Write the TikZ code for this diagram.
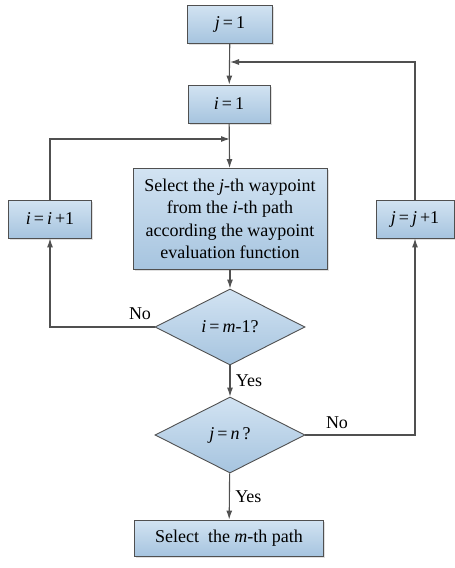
\documentclass[tikz,border=0pt]{standalone}
\usepackage{fontspec}
\setmainfont{Liberation Serif}
\usetikzlibrary{shapes.geometric,arrows.meta,shadows}
\definecolor{boxtop}{RGB}{210,227,242}
\definecolor{boxbot}{RGB}{166,196,223}
\definecolor{edgegray}{RGB}{80,80,80}
\tikzset{
  procbox/.style={draw=edgegray, line width=0.9pt, top color=boxtop, bottom color=boxbot,
    minimum height=38pt, inner sep=2pt, align=center,
    drop shadow={shadow xshift=1.5pt, shadow yshift=-1.5pt, opacity=0.25}},
  testbox/.style={diamond, aspect=2, draw=edgegray, line width=0.9pt, top color=boxtop,
    bottom color=boxbot, minimum width=150pt, minimum height=76pt, inner sep=0pt},
  flow/.style={draw=edgegray, line width=1.1pt, -{Latex[length=9pt,width=6pt]}},
  plain/.style={draw=edgegray, line width=1.1pt}
}
\begin{document}
\begin{tikzpicture}[x=1pt, y=-1pt, font=\fontsize{18}{22.5}\selectfont]
  \useasboundingbox (0,0) rectangle (455,568);
  % Boxes
  \node[procbox, minimum width=85pt] (j1) at (230,24) {\textit{j}\,=\,1};
  \node[procbox, minimum width=82pt] (i1) at (229,104) {\textit{i}\,=\,1};
  \node[procbox, minimum width=194pt, minimum height=101pt] (sel) at (230,219)
    {Select the \textit{j}-th waypoint\\from the \textit{i}-th path\\according the waypoint\\evaluation function};
  \node[procbox, minimum width=83pt] (inci) at (50,219) {\textit{i}\,=\,\textit{i}\,+1};
  \node[procbox, minimum width=78pt] (incj) at (415,219) {\textit{j}\,=\,\textit{j}\,+1};
  \node[procbox, minimum width=189pt, minimum height=36pt] (last) at (229,538) {Select\ \ the \textit{m}-th path};
  % Decisions
  \node[testbox] (d1) at (230,327) {\textit{i}\,=\,\textit{m}-1?};
  \node[testbox] (d2) at (230,435) {\textit{j}\,=\,\textit{n}\,?};
  % Merge points
  \coordinate (mi) at (230,139);
  \coordinate (mj) at (230,62);
  % Connectors
  \draw[flow] (j1) -- (i1);
  \draw[flow] (i1) -- (sel);
  \draw[flow] (sel) -- (d1);
  \draw[flow] (d1) -- node[right, xshift=2pt] {Yes} (d2);
  \draw[flow] (d2) -- node[right, xshift=2pt] {Yes} (last);
  \draw[flow] (d1.west) -| (inci.south);
  \draw[flow] (d2.east) -| (incj.south);
  \draw[flow] (inci.north) |- (mi);
  \draw[flow] (incj.north) |- (mj);
  % Labels
  \node (no1) at (140,314) {No};
  \node (no2) at (337,423) {No};
\end{tikzpicture}
\end{document}
